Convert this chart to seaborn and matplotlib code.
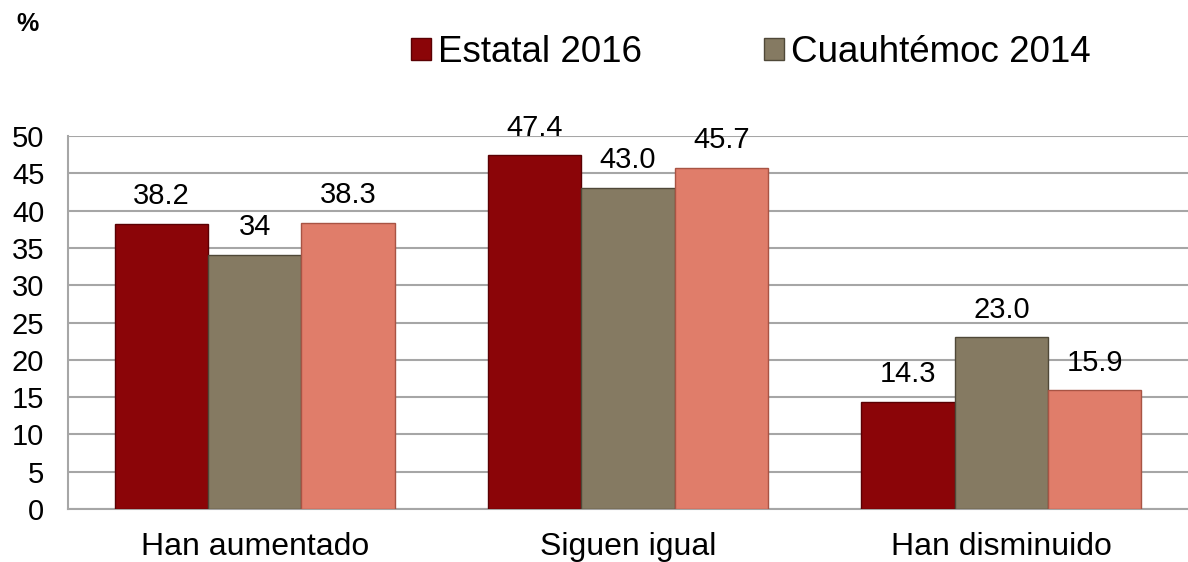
import matplotlib
matplotlib.use("Agg")
import matplotlib.pyplot as plt
import seaborn as sns
import pandas as pd
from matplotlib.patches import Patch

categories = ["Han aumentado", "Siguen igual", "Han disminuido"]
series_names = ["Estatal 2016", "Cuauhtémoc 2014", "Cuauhtémoc 2016"]
estatal_2016 = [38.2, 47.4, 14.3]
cuauhtemoc_2014 = [34, 43.0, 23.0]
cuauhtemoc_2016 = [38.3, 45.7, 15.9]
label_texts = [["38.2", "47.4", "14.3"], ["34", "43.0", "23.0"], ["38.3", "45.7", "15.9"]]
legend_names = ["Estatal 2016", "Cuauhtémoc 2014"]
yticks = [0, 5, 10, 15, 20, 25, 30, 35, 40, 45, 50]

colors = ["#8B0508", "#857A62", "#E07D6A"]
edges = ["#5A0003", "#4F4838", "#A85444"]

rows = []
for name, vals in zip(series_names, [estatal_2016, cuauhtemoc_2014, cuauhtemoc_2016]):
    for c, v in zip(categories, vals):
        rows.append({"cat": c, "serie": name, "val": v})
df = pd.DataFrame(rows)

sns.set_style("white")
plt.rcParams["font.family"] = ["Liberation Sans", "DejaVu Sans"]
plt.rcParams["text.color"] = "black"
plt.rcParams["xtick.labelcolor"] = "black"
plt.rcParams["ytick.labelcolor"] = "black"

fig = plt.figure(figsize=(11.88, 5.62), dpi=100)
ax = fig.add_axes([0.0572, 0.0943, 0.9428, 0.6637])

sns.barplot(data=df, x="cat", y="val", hue="serie", order=categories,
            hue_order=series_names, palette=colors, saturation=1, width=0.75,
            errorbar=None, legend=False, ax=ax, zorder=3)

for i, cont in enumerate(ax.containers):
    for p in cont:
        p.set_edgecolor(edges[i])
        p.set_linewidth(1.0)
    ax.bar_label(cont, labels=label_texts[i], padding=10, fontsize=21, color="black")

ax.set_ylim(0, 50)
ax.set_xlim(-0.5, 2.5)
ax.set_yticks(yticks)
ax.set_yticklabels([str(t) for t in yticks], fontsize=21, color="black")
ax.yaxis.grid(True, color="#A6A6A6", linewidth=1.5, zorder=0)
ax.set_axisbelow(True)
ax.set_xlabel("")
ax.set_ylabel("")
ax.tick_params(axis="x", which="major", length=0, labelsize=23, pad=16.5, labelcolor="black")
ax.set_xticks([-0.5, 0.5, 1.5, 2.5], minor=True)
ax.tick_params(axis="x", which="minor", length=6, color="#A6A6A6", width=1.5, direction="out")
ax.tick_params(axis="y", length=6, color="#A6A6A6", width=1.5, direction="out", pad=11)
for s in ["top", "right"]:
    ax.spines[s].set_visible(False)
ax.spines["left"].set_color("#A6A6A6")
ax.spines["left"].set_linewidth(1.5)
ax.spines["bottom"].set_color("#A6A6A6")
ax.spines["bottom"].set_linewidth(1.5)

handles = [Patch(facecolor=colors[0], edgecolor=edges[0]),
           Patch(facecolor=colors[1], edgecolor=edges[1])]
fig.legend(handles, legend_names, loc="center", bbox_to_anchor=(0.632, 0.907),
           ncol=2, frameon=False, fontsize=26.5, handlelength=0.55, handleheight=0.55,
           handletextpad=0.2, columnspacing=3.3, labelcolor="black")

fig.text(0.014, 0.957, "%", fontsize=18, fontweight="bold", va="center", ha="left", color="black")

fig.savefig("out.png", dpi=100)
